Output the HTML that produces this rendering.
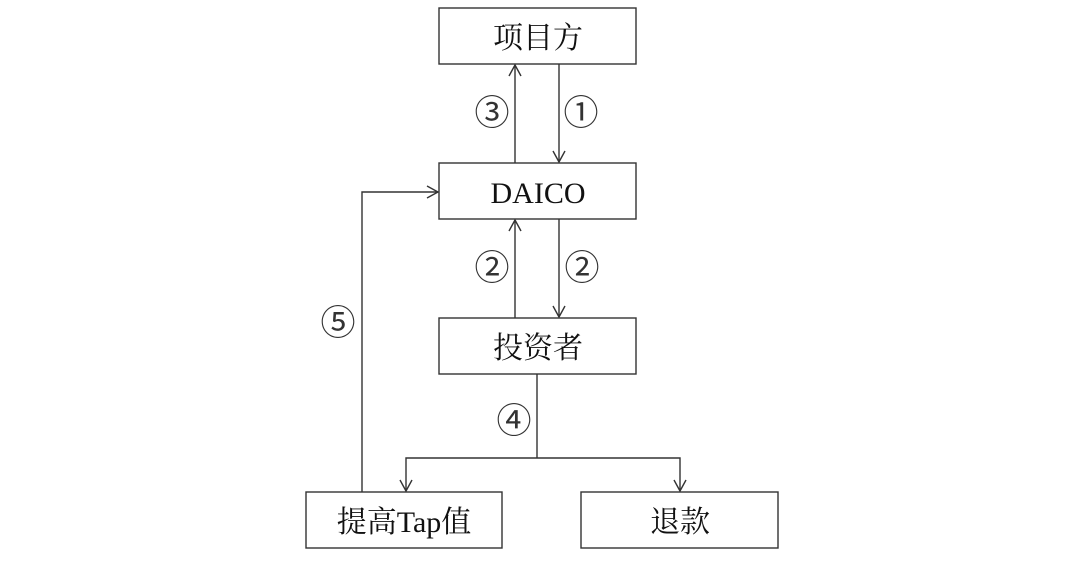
<!DOCTYPE html>
<html><head><meta charset="utf-8"><style>
html,body{margin:0;padding:0;background:#fff;}
</style></head><body>
<svg width="1080" height="573" viewBox="0 0 1080 573" xmlns="http://www.w3.org/2000/svg">
<rect width="1080" height="573" fill="#fff"/>
<g fill="none" stroke="#333" stroke-width="1.4">
<rect x="439" y="8" width="197" height="56"/>
<rect x="439" y="163" width="197" height="56"/>
<rect x="439" y="318" width="197" height="56"/>
<rect x="306" y="492" width="196" height="56"/>
<rect x="581" y="492" width="197" height="56"/>
<line x1="515" y1="163" x2="515" y2="65"/><polyline points="509,76 515,65 521,76"/>
<line x1="559" y1="64" x2="559" y2="162"/><polyline points="553,151 559,162 565,151"/>
<line x1="515" y1="318" x2="515" y2="220"/><polyline points="509,231 515,220 521,231"/>
<line x1="559" y1="219" x2="559" y2="317"/><polyline points="553,306 559,317 565,306"/>
<polyline points="537,374 537,458"/>
<polyline points="406,491 406,458 680,458 680,491"/>
<polyline points="400,480 406,491 412,480"/><polyline points="674,480 680,491 686,480"/>
<polyline points="362,492 362,192 438,192"/><polyline points="427,186 438,192 427,198"/>
</g>
<g font-family="'Liberation Serif','Noto Serif CJK SC',serif" font-size="30" fill="#111" text-anchor="middle">
<text x="538" y="48">项目方</text>
<text x="538" y="203">DAICO</text>
<text x="538" y="358">投资者</text>
<text x="404" y="532">提高Tap值</text>
<text x="680" y="532">退款</text>
</g>
<g font-family="'Liberation Sans','Noto Sans CJK SC',sans-serif" font-size="35" fill="#333" text-anchor="middle">
<text x="492" y="125">③</text>
<text x="581" y="125">①</text>
<text x="492" y="280">②</text>
<text x="582" y="280">②</text>
<text x="514" y="433">④</text>
<text x="338" y="335">⑤</text>
</g>
</svg>
</body></html>
